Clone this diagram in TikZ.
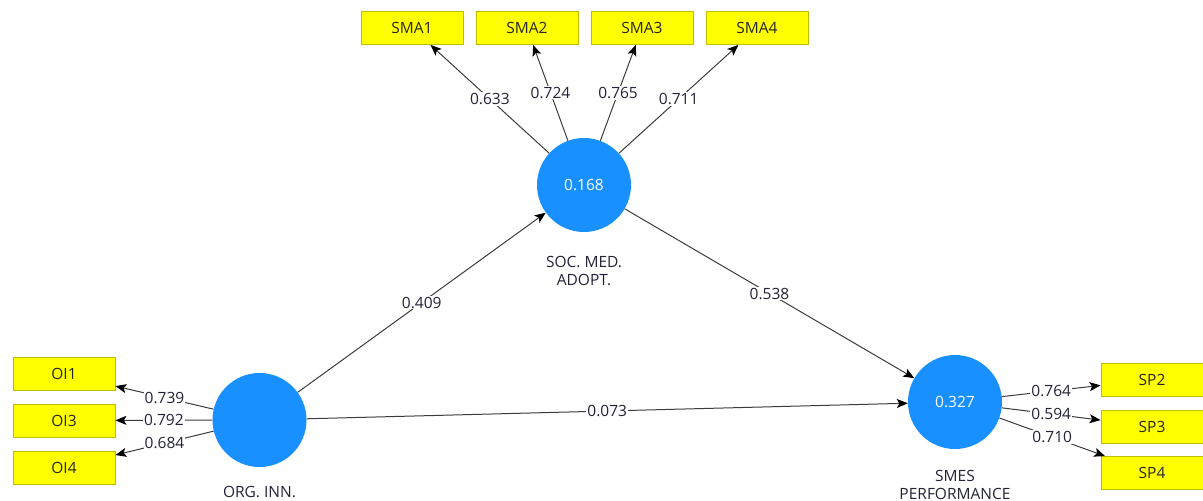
\documentclass[tikz,border=0pt]{standalone}
\usepackage{fontspec}
\setmainfont{Open Sans}
\usetikzlibrary{arrows.meta}
\definecolor{lvblue}{RGB}{24,144,255}
\definecolor{indyellow}{RGB}{255,255,0}
\definecolor{indborder}{RGB}{190,190,0}
\definecolor{linegray}{RGB}{60,60,60}
\definecolor{txtgray}{RGB}{35,35,55}
\begin{document}
\begin{tikzpicture}[x=1pt,y=-1pt,
 latent/.style={circle, fill=lvblue, minimum size=94pt, inner sep=0pt, text=white, font=\fontsize{15.5}{17}\selectfont},
 indicator/.style={rectangle, fill=indyellow, draw=indborder, line width=0.8pt, minimum width=102pt, minimum height=33pt, inner sep=0pt, text=black!85, font=\fontsize{15.5}{17}\selectfont},
 conn/.style={draw=linegray, line width=1pt, -{Stealth[length=11pt,width=9pt,inset=2.5pt,color=black]}},
 wt/.style={fill=white, inner sep=1pt, text=txtgray, font=\fontsize{15.5}{17}\selectfont},
 lvname/.style={align=center, text=txtgray, font=\fontsize{15.5}{18}\selectfont}
]
\useasboundingbox (0,0) rectangle (1203,501);
% latent variables
\node[latent] (soc) at (584,185) {0.168};
\node[latent] (org) at (259.5,420) {};
\node[latent] (sme) at (955,402) {0.327};
\node[lvname] (socname) at (584,271) {SOC. MED.\\ADOPT.};
\node[lvname] (orgname) at (259.5,492) {ORG. INN.};
\node[lvname] (smename) at (955,485) {SMES\\PERFORMANCE};
% indicators
\node[indicator] (sma1) at (412,28) {SMA1};
\node[indicator] (sma2) at (527,28) {SMA2};
\node[indicator] (sma3) at (642,28) {SMA3};
\node[indicator] (sma4) at (757,28) {SMA4};
\node[indicator] (oi1) at (64,374) {OI1};
\node[indicator] (oi3) at (64,420.5) {OI3};
\node[indicator] (oi4) at (64,467.5) {OI4};
\node[indicator] (sp2) at (1152,379.5) {SP2};
\node[indicator] (sp3) at (1152,426.5) {SP3};
\node[indicator] (sp4) at (1152,473) {SP4};
% loadings
\draw[conn] (soc) -- node[wt] {0.633} (sma1);
\draw[conn] (soc) -- node[wt] {0.724} (sma2);
\draw[conn] (soc) -- node[wt] {0.765} (sma3);
\draw[conn] (soc) -- node[wt] {0.711} (sma4);
\draw[conn] (org) -- node[wt] {0.739} (oi1);
\draw[conn] (org) -- node[wt] {0.792} (oi3);
\draw[conn] (org) -- node[wt] {0.684} (oi4);
\draw[conn] (sme) -- node[wt] {0.764} (sp2);
\draw[conn] (sme) -- node[wt] {0.594} (sp3);
\draw[conn] (sme) -- node[wt] {0.710} (sp4);
% paths
\draw[conn] (org) -- node[wt] {0.409} (soc);
\draw[conn] (org) -- node[wt] {0.073} (sme);
\draw[conn] (soc) -- node[wt] {0.538} (sme);
\end{tikzpicture}
\end{document}
